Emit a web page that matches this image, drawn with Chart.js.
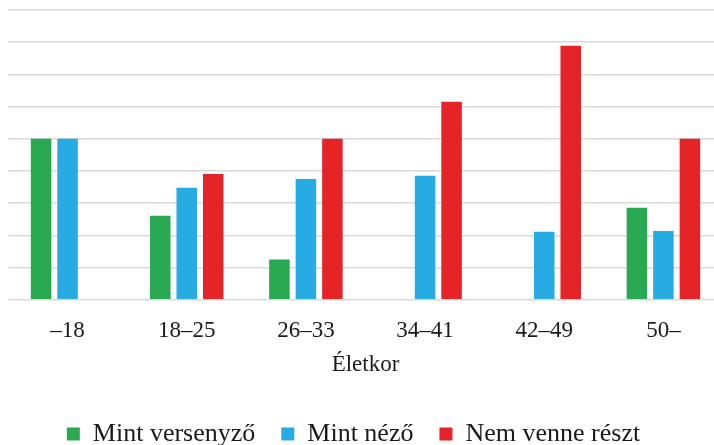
<!DOCTYPE html>
<html>
<head>
<meta charset="utf-8">
<script src="https://cdn.jsdelivr.net/npm/chart.js@4/dist/chart.umd.min.js"></script>
<style>
  html, body { margin: 0; padding: 0; background: #fff; }
  #wrap { width: 714px; height: 445px; overflow: hidden; position: relative; }
  canvas { display: block; }
</style>
</head>
<body>
<div id="wrap"><canvas id="c" width="724" height="457"></canvas></div>
<script>
// Age groups (Életkor)
const categories = ['–18', '18–25', '26–33', '34–41', '42–49', '50–'];

// Share of respondents in each age group (%)
const mintVersenyzo = [50, 26.1, 12.5, 0, 0, 28.6];
const mintNezo      = [50, 34.8, 37.5, 38.5, 21.1, 21.4];
const nemVenneReszt = [0, 39.1, 50, 61.5, 78.9, 50];

const seriesNames = ['Mint versenyző', 'Mint néző', 'Nem venne részt'];
const axisTitle = 'Életkor';

const serif = '"Liberation Serif", "Times New Roman", serif';
const textColor = '#1a1a1a';

// Shift the legend block slightly left of centre
const legendShift = {
  id: 'legendShift',
  afterLayout(chart) {
    const lg = chart.legend;
    if (lg) { lg.left -= 12; lg.right -= 12; }
  }
};

new Chart(document.getElementById('c'), {
  type: 'bar',
  data: {
    labels: categories,
    datasets: [
      { label: seriesNames[0], data: mintVersenyzo, backgroundColor: '#2aa953' },
      { label: seriesNames[1], data: mintNezo, backgroundColor: '#26ace2' },
      { label: seriesNames[2], data: nemVenneReszt, backgroundColor: '#e42426' }
    ]
  },
  options: {
    responsive: false,
    animation: false,
    devicePixelRatio: 1,
    layout: { padding: { top: 10, left: 8, right: 1, bottom: 0 } },
    datasets: {
      bar: { categoryPercentage: 0.667, barPercentage: 0.775, borderWidth: 0 }
    },
    scales: {
      x: {
        grid: { display: false, drawTicks: false },
        border: { display: false },
        ticks: { color: textColor, font: { family: serif, size: 23 }, padding: 17, maxRotation: 0 },
        title: {
          display: true, text: axisTitle, color: textColor,
          font: { family: serif, size: 23 }, padding: { top: -10, bottom: 16 }
        }
      },
      y: {
        min: 0, max: 90,
        ticks: { display: false, stepSize: 10 },
        grid: { color: '#d9d9d9', lineWidth: 1.5, drawTicks: false },
        border: { display: false }
      }
    },
    plugins: {
      tooltip: { enabled: false },
      legend: {
        position: 'bottom',
        labels: {
          boxWidth: 13, boxHeight: 13, padding: 26,
          color: textColor, font: { family: serif, size: 26 }
        }
      }
    }
  },
  plugins: [legendShift]
});
</script>
</body>
</html>
